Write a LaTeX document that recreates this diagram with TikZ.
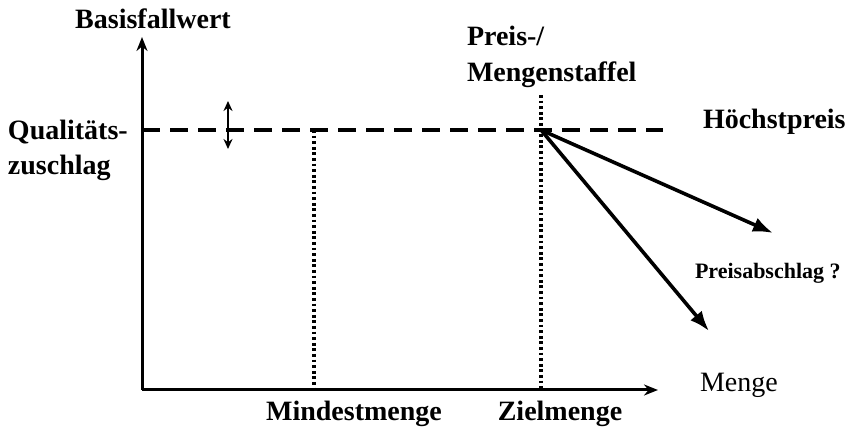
\documentclass[tikz,border=0pt]{standalone}
\usepackage{fontspec}
\setmainfont{Liberation Serif}
\usetikzlibrary{arrows.meta}
\begin{document}
\begin{tikzpicture}[x=0.5pt,y=-0.5pt,
  font=\bfseries\fontsize{14}{16}\selectfont,
  lbl/.style={inner sep=0pt,outer sep=0pt},
  achse/.style={line width=1.5pt,-{Stealth[length=7pt,width=5.5pt]}},
  pfeil/.style={line width=1.8pt,-{Latex[length=10pt,width=7.5pt]}},
  gestrichelt/.style={line width=2pt,dash pattern=on 9pt off 5pt},
  gepunktet/.style={line width=1.8pt,dash pattern=on 1.4pt off 1.4pt}]
  \useasboundingbox (0,0) rectangle (856,432);
  \coordinate (O) at (142,390);
  \coordinate (ytop) at (142,37);
  \coordinate (xend) at (658,390);
  \coordinate (ql) at (142,130);
  \coordinate (qr) at (663,130);
  \coordinate (s) at (541,130);
  \coordinate (ztop) at (541,95);
  \coordinate (zbot) at (541,390);
  \coordinate (mtop) at (314,130);
  \coordinate (mbot) at (314,390);
  \coordinate (a1) at (773,233);
  \coordinate (a2) at (709,331);
  \coordinate (dpo) at (228,101);
  \coordinate (dpu) at (228,149);
  \draw[gestrichelt] (ql) -- (qr);
  \draw[gepunktet] (mtop) -- (mbot);
  \draw[gepunktet] (ztop) -- (zbot);
  \draw[achse] (O) -- (ytop);
  \draw[achse] (O) -- (xend);
  \draw[line width=1pt,{Stealth[length=5pt,width=4.5pt]}-{Stealth[length=5pt,width=4.5pt]}] (dpo) -- (dpu);
  \draw[pfeil] (s) -- (a1);
  \draw[pfeil] (s) -- (a2);
  \node[lbl,anchor=base] (basis) at (153,29) {Basisfallwert};
  \node[lbl,anchor=north west,align=left,font=\bfseries\fontsize{14}{18}\selectfont] (staffel) at (467,26) {Preis-/\\Mengenstaffel};
  \node[lbl,anchor=north west,align=left,font=\bfseries\fontsize{14}{17.5}\selectfont] (qual) at (8,120) {Qualitäts-\\zuschlag};
  \node[lbl,anchor=base west] (hoechst) at (703,129) {Höchstpreis};
  \node[lbl,anchor=base west,font=\bfseries\fontsize{11}{13}\selectfont] (abschlag) at (695,279) {Preisabschlag ?};
  \node[lbl,anchor=base] (mindest) at (354,421) {Mindestmenge};
  \node[lbl,anchor=base] (ziel) at (560,421) {Zielmenge};
  \node[lbl,anchor=base west,font=\mdseries\fontsize{14}{16}\selectfont] (menge) at (700,392) {Menge};
\end{tikzpicture}
\end{document}
